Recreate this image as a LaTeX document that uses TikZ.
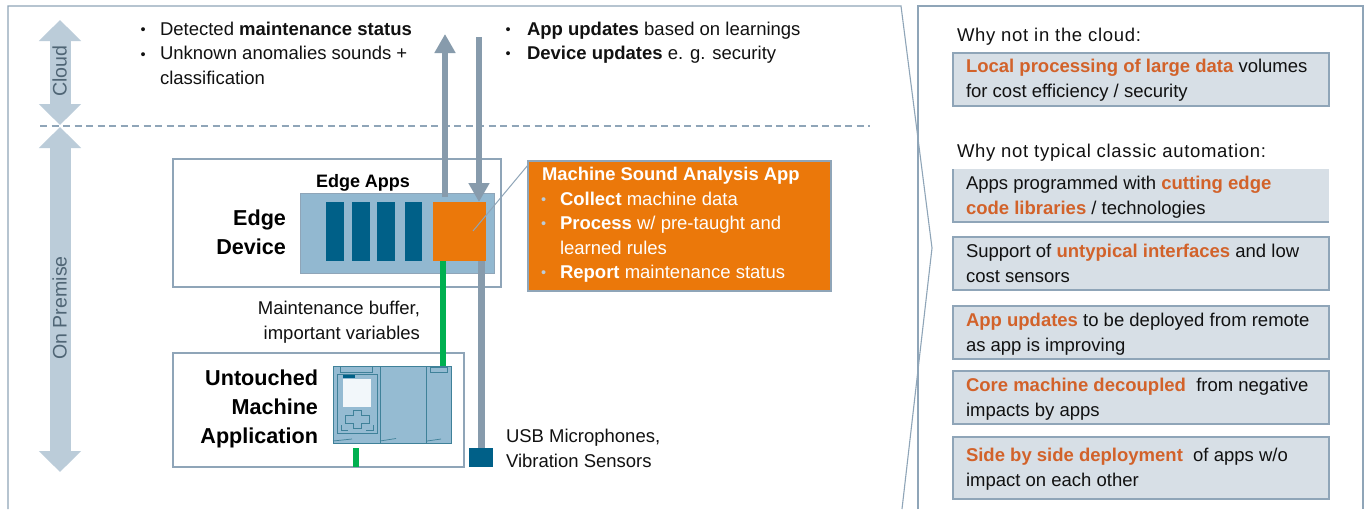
\documentclass[tikz,border=0pt]{standalone}
\usepackage{fontspec}
\setmainfont{Liberation Sans}
\newfontfamily\wsp[LetterSpace=3.8]{Liberation Sans}
\usetikzlibrary{arrows.meta}
\definecolor{frameC}{HTML}{8FA5B8}
\definecolor{band}{HTML}{BBCCD9}
\definecolor{bandT}{HTML}{4F6575}
\definecolor{flow}{HTML}{879BAC}
\definecolor{devblue}{HTML}{92B8D0}
\definecolor{appblue}{HTML}{006088}
\definecolor{orangeA}{HTML}{EB780A}
\definecolor{greenL}{HTML}{00B050}
\definecolor{panel}{HTML}{D7DFE6}
\definecolor{hlC}{HTML}{D2622A}
\definecolor{plc}{HTML}{95BBD2}
\definecolor{plcL}{HTML}{3F8199}
\definecolor{inkC}{HTML}{111111}
\newcommand{\hl}[1]{\textcolor{hlC}{\textbf{#1}}}
\newcommand{\fsz}[2]{\fontsize{#1}{#2}\selectfont}
\tikzset{
  x=1pt,y=-1pt,
  frameline/.style={draw=frameC,line width=1.1pt},
  box/.style={rectangle,inner sep=0pt,outer sep=0pt,draw=frameC,line width=1.1pt},
  panelbox/.style={rectangle,inner sep=0pt,outer sep=0pt,draw=frameC,line width=2pt,fill=panel,minimum width=376pt},
  solid box/.style={rectangle,inner sep=0pt,outer sep=0pt},
  appbar/.style={solid box,fill=appblue,minimum height=59pt},
  txt/.style={anchor=base west,inner sep=0pt,outer sep=0pt,align=left,text=inkC,font=\fsz{18.5}{24.8}},
  txtr/.style={txt,anchor=base east,align=right},
  bullet/.style={txt,font=\fsz{14.5}{16}},
  head/.style={txtr,font=\fsz{21.6}{28.8}\bfseries,text=black},
  white text/.style={txt,text=white},
  bandarrow/.style={draw=band,line width=21pt,{Triangle[width=41pt,length=21pt]}-{Triangle[width=41pt,length=21pt]}},
  flowup/.style={draw=flow,line width=6.6pt,-{Triangle[width=20pt,length=19pt]}},
  flowline/.style={draw=flow,line width=7pt},
  greenline/.style={draw=greenL,line width=6pt},
  bandlabel/.style={rotate=90,inner sep=0pt,text=bandT,font=\fsz{19.6}{20}},
  plcline/.style={draw=plcL,line width=0.7pt}
}
\begin{document}
\begin{tikzpicture}
\useasboundingbox (0,0) rectangle (1367,509);
\fill[white] (0,0) rectangle (1367,509);
% frames
\draw[frameline] (8,509) -- (8,6) -- (901,6) -- (932,248) -- (902,509);
\draw[frameline] (918,509) -- (918,6) -- (1363,6) -- (1363,509);
\draw[frameC,line width=1.2pt,dash pattern=on 7pt off 4.5pt] (40,126) -- (870,126);
% band arrows
\coordinate (cloudTop) at (60,20);
\coordinate (cloudBot) at (60,125);
\coordinate (premTop) at (60,127);
\coordinate (premBot) at (60,472);
\draw[bandarrow] (cloudTop) -- (cloudBot);
\draw[bandarrow] (premTop) -- (premBot);
\node[bandlabel] (cloudL) at (59.5,71) {Cloud};
\node[bandlabel] (premL) at (59.5,308) {On Premise};
% top text
\node[bullet] (b1) at (140.5,34) {•};
\node[txt] (t1) at (160,35) {Detected \textbf{maintenance status}};
\node[bullet] (b2) at (140.5,59) {•};
\node[txt] (t2) at (160,84) {Unknown anomalies sounds +\\classification};
\node[bullet] (b3) at (505.5,34) {•};
\node[txt] (t3) at (527,35) {\textbf{App updates} based on learnings};
\node[bullet] (b4) at (505.5,58) {•};
\node[txt] (t4) at (527,59) {\textbf{Device updates} e. g. security};
% edge device
\node[box,minimum width=328pt,minimum height=128pt] (edge) at (337,223) {};
\node[solid box,draw=frameC,line width=0.8pt,fill=devblue,minimum width=194pt,minimum height=80pt] (apps) at (397,233) {};
\node[appbar,minimum width=18pt] (a1) at (335,231.5) {};
\node[appbar,minimum width=18pt] (a2) at (361,231.5) {};
\node[appbar,minimum width=18pt] (a3) at (386,231.5) {};
\node[appbar,minimum width=17pt] (a4) at (413.5,231) {};
\node[solid box,fill=orangeA,minimum width=53pt,minimum height=59pt] (sa) at (459.5,231.5) {};
\node[txt,font=\fsz{18}{20}\bfseries,text=black,anchor=base] (ea) at (363,187) {Edge Apps};
\node[head] (ed) at (286,254) {Edge\\Device};
% untouched machine
\node[box,minimum width=291pt,minimum height=114pt] (mach) at (318.5,410) {};
\node[head] (um) at (318,443) {Untouched\\Machine\\Application};
\node[solid box,draw=plcL,line width=0.7pt,fill=plc,minimum width=118pt,minimum height=77pt] (plcbox) at (392,404.5) {};
\draw[plcline] (380,366) -- (380,443) (426.5,366) -- (426.5,443);
\draw[plcline] (337,374) rectangle (377,433);
\draw[plcline] (340,366) rectangle (372,372);
\draw[plcline] (430,367) rectangle (447,372);
\draw[plcline] (333,441) -- (352,439) (380,441) -- (396,438.5) (427,441) -- (441,439);
\fill[appblue] (343,374.5) rectangle (355,377.5);
\node[solid box,fill=white!88!plc,minimum width=28pt,minimum height=28pt] (scr) at (357,393) {};
\draw[plcline,line width=0.6pt] (353,410) -- (361,410) -- (361,415) -- (369,415) -- (369,423) -- (361,423) -- (361,428) -- (353,428) -- (353,423) -- (345,423) -- (345,415) -- (353,415) -- cycle;
\draw[plcline,line width=0.6pt] (341,425) -- (341,430) -- (348,430) (373,425) -- (373,430) -- (366,430);
% connectors
\coordinate (upTip) at (445,34);
\coordinate (upBase) at (445,197);
\coordinate (dnTop) at (479,37);
\coordinate (dnTip) at (479,202);
\coordinate (gTop) at (443,261);
\coordinate (gBot) at (443,366);
\coordinate (fTop) at (481,261);
\node[solid box,fill=appblue,minimum width=24pt,minimum height=19pt] (mic) at (481,457.5) {};
\node[solid box,fill=greenL,minimum width=6pt,minimum height=19pt] (gs) at (356,457.5) {};
\draw[flowup] (upBase) -- (upTip);
\draw[flowup] (dnTop) -- (dnTip);
\draw[greenline] (gTop) -- (gBot);
\draw[flowline] (fTop) -- (mic.north);
\node[txtr] (mb) at (420,339) {Maintenance buffer,\\important variables};
\node[txt] (usb) at (506,467) {USB Microphones,\\Vibration Sensors};
% callout
\node[solid box,draw=frameC,line width=1.5pt,fill=orangeA,minimum width=303pt,minimum height=130pt] (call) at (679.5,226) {};
\coordinate (callTip) at (473,231);
\draw[frameC,line width=1pt] (call.north west) ++(0,4) -- (callTip);
\node[white text,font=\fsz{18.4}{20}\bfseries] (ct) at (542,180) {Machine Sound Analysis App};
\node[bullet,text=band] (cb1) at (541,204) {•};
\node[white text] (c1) at (560,205) {\textbf{Collect} machine data};
\node[bullet,text=band] (cb2) at (541,228) {•};
\node[white text] (c2) at (560,254) {\textbf{Process} w/ pre-taught and\\learned rules};
\node[bullet,text=band] (cb3) at (541,277) {•};
\node[white text] (c3) at (560,278) {\textbf{Report} maintenance status};
% right panel
\node[txt,font=\wsp\fsz{18.5}{24.8}] (w1) at (957,41) {Why not in the cloud:};
\node[txt,font=\wsp\fsz{18.5}{24.8}] (w2) at (957,157) {Why not typical classic automation:};
\node[panelbox,minimum height=53pt] (p1) at (1140.5,79) {};
\node[panelbox,draw=none,minimum height=53pt] (p2) at (1140.5,195.5) {};
\draw[frameC,line width=2pt] (p2.north west) -- (p2.south west) -- (p2.south east);
\node[panelbox,minimum height=53pt] (p3) at (1140.5,263.5) {};
\node[panelbox,minimum height=53pt] (p4) at (1140.5,332) {};
\node[panelbox,minimum height=53pt] (p5) at (1140.5,397.5) {};
\node[panelbox,minimum height=62pt] (p6) at (1140.5,468) {};
\node[txt] (q1) at (966,97.7) {\hl{Local processing of large data} volumes\\for cost efficiency / security};
\node[txt] (q2) at (966,214.7) {Apps programmed with \hl{cutting edge}\\\hl{code libraries} / technologies};
\node[txt] (q3) at (966,282.7) {Support of \hl{untypical interfaces} and low\\cost sensors};
\node[txt] (q4) at (966,351) {\hl{App updates} to be deployed from remote\\as app is improving};
\node[txt] (q5) at (966,416) {\hl{Core machine decoupled}\ \ from negative\\impacts by apps};
\node[txt] (q6) at (966,486.7) {\hl{Side by side deployment}\ \ of apps w/o\\impact on each other};
\end{tikzpicture}
\end{document}
